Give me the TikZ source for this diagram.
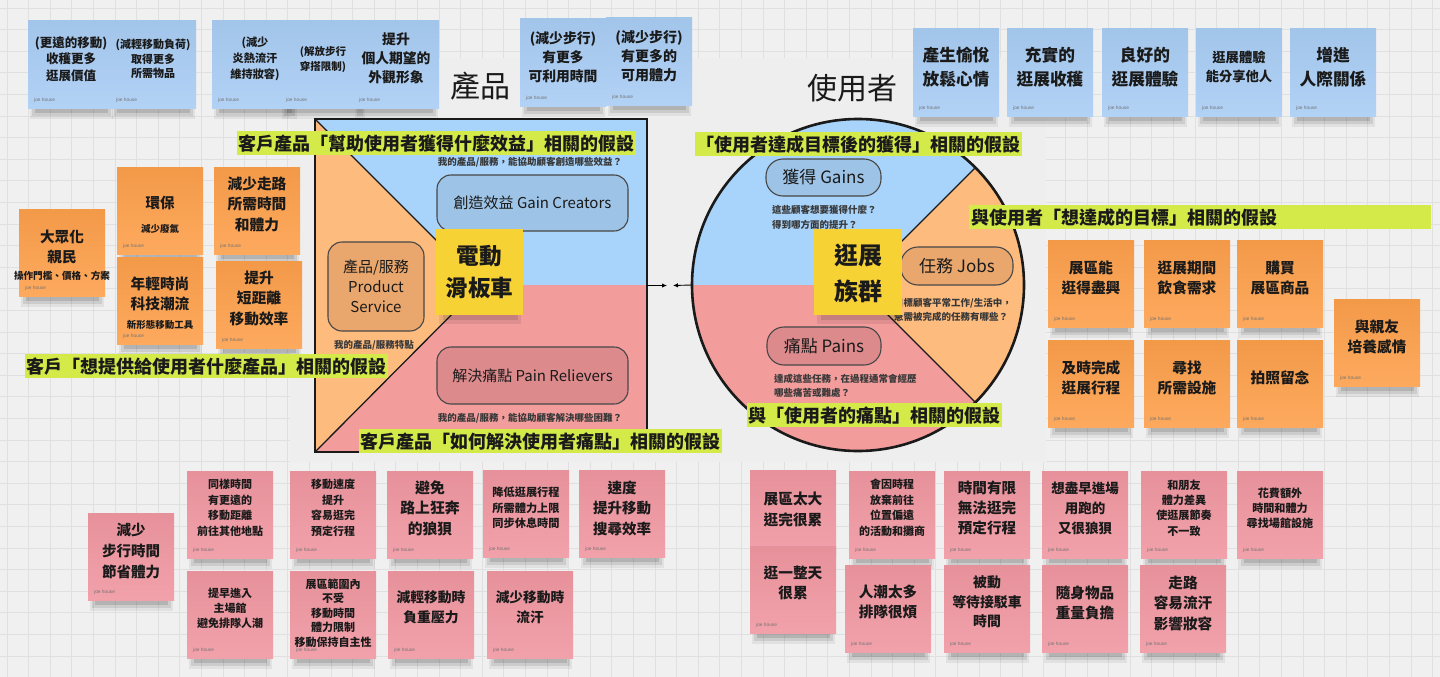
\documentclass[tikz,border=0pt]{standalone}
\usepackage{fontspec}
\setmainfont{Noto Sans CJK TC}
\newfontfamily\signfont{Liberation Sans}
\usetikzlibrary{arrows.meta,calc}

% palette
\definecolor{bgc}{HTML}{F0F0F0}
\definecolor{gridc}{HTML}{E0E0E0}
\definecolor{panelc}{HTML}{EEEEEE}
\definecolor{cvblue}{HTML}{A8D3FA}
\definecolor{cvpink}{HTML}{F29C9C}
\definecolor{cvorange}{HTML}{FDBB7E}
\definecolor{bxblue}{HTML}{9DC3E6}
\definecolor{bxorange}{HTML}{E9A76D}
\definecolor{bxpink}{HTML}{DD8A8D}
\definecolor{yel}{HTML}{F6D235}
\definecolor{nblue}{HTML}{A9CDF4}
\definecolor{norange}{HTML}{FDA04C}
\definecolor{npink}{HTML}{F097A1}
\definecolor{limec}{HTML}{D4EA49}
\definecolor{inkc}{HTML}{1A1A1A}

\newcommand{\fs}[2]{\bfseries\fontsize{#1}{#2}\selectfont}

\tikzset{
  notebox/.style={rectangle, minimum width=86pt, minimum height=87pt, anchor=north west, inner sep=0pt, outer sep=0pt},
  notetext/.style={align=center, inner sep=0pt, text=inkc},
  sign/.style={font=\signfont\fontsize{4.8}{5}\selectfont, text=black!55, anchor=west, inner sep=0pt},
  hypo/.style={fill=limec, inner xsep=1.5pt, inner ysep=0pt, minimum height=24pt, anchor=north west, font=\fs{18}{20}, text=inkc},
  vpbox/.style={draw=black!72, line width=1.1pt, rounded corners=14pt, inner sep=0pt, align=center, text=inkc},
  hint/.style={font=\fs{9.5}{14.5}, text=black!78, inner sep=0pt},
  title/.style={font=\fontsize{30}{32}\selectfont, text=inkc, inner sep=0pt},
  tip/.style={line width=0.9pt, -{Latex[length=5pt,width=4.5pt]}}
}

% sticky note: name, x, y (top left), colour, font, text lift, text
\newcommand{\stnote}[7]{%
  \fill[black,opacity=0.06] (#2+2,#3+80) rectangle (#2+85,#3+98);
  \fill[black,opacity=0.09] (#2+4,#3+83) rectangle (#2+83,#3+95);
  \fill[black,opacity=0.12] (#2+7,#3+85) rectangle (#2+80,#3+92);
  \node[notebox, top color=#4!96!black, bottom color=#4!90!white] (#1) at (#2,#3) {};
  \node[notetext, font={#5}] (#1t) at ([yshift=#6pt]#1.center) {#7};
  \node[sign] (#1s) at ([xshift=6pt,yshift=8pt]#1.south west) {joe house};
}

\begin{document}
\begin{tikzpicture}[x=1pt,y=-1pt]
\useasboundingbox (0,0) rectangle (1440,677);
\fill[bgc] (0,0) rectangle (1440,677);
\foreach \k in {0,...,66} \draw[gridc,line width=0.8pt] (\k*21.6+7,0) -- (\k*21.6+7,677);
\foreach \k in {0,...,31} \draw[gridc,line width=0.8pt] (0,\k*21.6+8) -- (1440,\k*21.6+8);
\fill[panelc] (290,58) rectangle (1046,462);

% ---- gains row (blue)
\stnote{b1}{28}{21}{nblue}{\fs{12.5}{16.5}}{5.5}{(更遠的移動)\\收穫更多\\逛展價值}
\stnote{b2}{110}{21}{nblue}{\fs{11}{14.5}}{5.5}{(減輕移動負荷)\\取得更多\\所需物品}
\stnote{b3}{212}{21}{nblue}{\fs{11.2}{16}}{5.5}{(減少\\炎熱流汗\\維持妝容)}
\stnote{b4}{280}{21}{nblue}{\fs{10.5}{15}}{5}{(解放步行\\穿搭限制)}
\stnote{b5}{353}{21}{nblue}{\fs{13.8}{19}}{6}{提升\\個人期望的\\外觀形象}
\stnote{b6}{520}{19}{nblue}{\fs{13.8}{19}}{5.5}{(減少步行)\\有更多\\可利用時間}
\stnote{b7}{606}{18}{nblue}{\fs{14}{19}}{5.5}{(減少步行)\\有更多的\\可用體力}
\stnote{b8}{913}{29}{nblue}{\fs{16.7}{24}}{5}{產生愉悅\\放鬆心情}
\stnote{b9}{1007}{29}{nblue}{\fs{16.7}{24}}{5}{充實的\\逛展收穫}
\stnote{b10}{1102}{29}{nblue}{\fs{16.7}{24}}{5}{良好的\\逛展體驗}
\stnote{b11}{1196}{29}{nblue}{\fs{13.3}{19}}{6}{逛展體驗\\能分享他人}
\stnote{b12}{1290}{29}{nblue}{\fs{16.7}{24}}{5}{增進\\人際關係}

% ---- headings
\node[title] (tprod) at (480,86) {產品};
\node[title] (tuser) at (852,88) {使用者};

% ---- value map square
\fill[cvblue] (315,119) -- (647,119) -- (647,285) -- (481,285) -- cycle;
\fill[cvpink] (481,285) -- (647,285) -- (647,452) -- (315,452) -- cycle;
\fill[cvorange] (315,119) -- (481,285) -- (315,452) -- cycle;
\draw[inkc,line width=1.3pt] (315,119) -- (481,285) -- (315,452);

\node[vpbox, fill=bxblue, minimum width=191pt, minimum height=56pt, font=\fontsize{15}{18}\selectfont] (gc) at (532.5,203) {創造效益 Gain Creators};
\node[vpbox, fill=bxorange, minimum width=96pt, minimum height=89pt, font=\fontsize{15}{20}\selectfont] (ps) at (376,286.5) {產品/服務\\Product\\Service};
\node[vpbox, fill=bxpink, minimum width=191pt, minimum height=57pt, font=\fontsize{15}{18}\selectfont] (pr) at (532.5,375.5) {解決痛點 Pain Relievers};

\node[hint] (h1) at (530,162) {我的產品/服務，能協助顧客創造哪些效益？};
\node[hint] (h2) at (374,345) {我的產品/服務特點};
\node[hint] (h3) at (530,418) {我的產品/服務，能協助顧客解決哪些困難？};

\node[draw=inkc, line width=2.6pt, minimum width=332pt, minimum height=333pt, inner sep=0pt, outer sep=0pt, anchor=north west] (sq) at (315,119) {};

% ---- customer profile circle
\begin{scope}[shift={(858,285)}, y=1pt]
  \fill[cvblue] (0,0) -- (180:166) arc[start angle=180, end angle=45, radius=166] -- cycle;
  \fill[cvorange] (0,0) -- (45:166) arc[start angle=45, end angle=-45, radius=166] -- cycle;
  \fill[cvpink] (0,0) -- (-45:166) arc[start angle=-45, end angle=-180, radius=166] -- cycle;
  \draw[inkc,line width=1.3pt] (45:166) -- (0,0) -- (-45:166);
\end{scope}

\node[vpbox, fill=bxblue, rounded corners=17pt, minimum width=115pt, minimum height=37pt, font=\fontsize{17}{20}\selectfont] (ga) at (823.5,177.5) {獲得 Gains};
\node[vpbox, fill=bxorange, rounded corners=17pt, minimum width=112pt, minimum height=38pt, font=\fontsize{17}{20}\selectfont] (jb) at (957,266) {任務 Jobs};
\node[vpbox, fill=bxpink, rounded corners=17pt, minimum width=114pt, minimum height=38pt, font=\fontsize{17}{20}\selectfont] (pa) at (824,346) {痛點 Pains};

\node[hint, align=left, anchor=west] (h4) at (772,217.5) {這些顧客想要獲得什麼？\\得到哪方面的提升？};
\node[hint, align=left, anchor=west] (h5) at (894,309.7) {目標顧客平常工作/生活中，\\急需被完成的任務有哪些？};
\node[hint, align=left, anchor=west] (h6) at (774,386) {達成這些任務，在過程通常會經歷\\哪些痛苦或難處？};

\node[circle, draw=inkc, line width=2.6pt, minimum size=332pt, inner sep=0pt, outer sep=0pt] (cir) at (858,285) {};

% ---- fit arrows between the two halves
\coordinate (fitL) at (667,285.5);
\coordinate (fitR) at (673,285.5);
\draw[tip] (sq.east) -- (fitL);
\draw[tip] (cir.west) -- (fitR);

% ---- central subject notes
\fill[black,opacity=0.08] (439,308) rectangle (521,324);
\fill[black,opacity=0.11] (443,312) rectangle (518,320);
\node[rectangle, minimum width=87pt, minimum height=86pt, inner sep=0pt, outer sep=0pt, fill=yel, anchor=north west] (ev) at (436,229) {};
\node[notetext, font=\fs{22.6}{32}] (evt) at (ev.center) {電動\\滑板車};
\fill[black,opacity=0.08] (817,308) rectangle (900,324);
\fill[black,opacity=0.11] (821,312) rectangle (897,320);
\node[rectangle, minimum width=88pt, minimum height=86pt, inner sep=0pt, outer sep=0pt, fill=yel, anchor=north west] (vg) at (814,229) {};
\node[notetext, font=\fs{24}{36}] (vgt) at ([yshift=-1pt]vg.center) {逛展\\族群};

% ---- product notes (orange, left)
\stnote{o1}{19}{209}{norange}{\fs{14.6}{20}}{-3}{大眾化\\親民\\[-3pt]{\fs{9.6}{13}操作門檻、價格、方案}}
\stnote{o2}{117}{167}{norange}{\fs{14.5}{20}}{-4.5}{環保\\[4pt]{\fs{9.5}{13}減少廢氣}}
\stnote{o3}{214}{167}{norange}{\fs{14.7}{20.5}}{6.5}{減少走路\\所需時間\\和體力}
\stnote{o4}{117}{257}{norange}{\fs{14.7}{20}}{-2.5}{年輕時尚\\科技潮流\\[-1pt]{\fs{9.5}{13}新形態移動工具}}
\stnote{o5}{216}{261}{norange}{\fs{14.7}{20.5}}{6.5}{提升\\短距離\\移動效率}

% ---- job notes (orange, right)
\stnote{r1}{1048}{240}{norange}{\fs{14.7}{20}}{5.5}{展區能\\逛得盡興}
\stnote{r2}{1144}{240}{norange}{\fs{14.7}{20}}{5.5}{逛展期間\\飲食需求}
\stnote{r3}{1237}{240}{norange}{\fs{14.7}{20}}{5.5}{購買\\展區商品}
\stnote{r4}{1048}{340}{norange}{\fs{14.7}{20}}{6}{及時完成\\逛展行程}
\stnote{r5}{1144}{340}{norange}{\fs{14.7}{20}}{6}{尋找\\所需設施}
\stnote{r6}{1237}{340}{norange}{\fs{14.7}{20}}{5.5}{拍照留念}
\stnote{r7}{1334}{299}{norange}{\fs{14.7}{20}}{5.5}{與親友\\培養感情}

% ---- pain reliever notes (pink, left)
\stnote{p1}{88}{513}{npink}{\fs{14.5}{21}}{5.5}{減少\\步行時間\\節省體力}
\stnote{p2}{187}{471}{npink}{\fs{11}{15.5}}{6.5}{同樣時間\\有更遠的\\移動距離\\前往其他地點}
\stnote{p3}{290}{471}{npink}{\fs{11}{15.5}}{6.5}{移動速度\\提升\\容易逛完\\預定行程}
\stnote{p4}{387}{471}{npink}{\fs{14.8}{20.5}}{6.5}{避免\\路上狂奔\\的狼狽}
\stnote{p5}{483}{470}{npink}{\fs{11.2}{15.5}}{5.5}{降低逛展行程\\所需體力上限\\同步休息時間}
\stnote{p6}{579}{470}{npink}{\fs{14.5}{20.5}}{5.5}{速度\\提升移動\\搜尋效率}
\stnote{p7}{187}{571}{npink}{\fs{11}{15}}{6}{提早進入\\主場館\\避免排隊人潮}
\stnote{p8}{290}{571}{npink}{\fs{11}{14.5}}{1.5}{展區範圍內\\不受\\移動時間\\體力限制\\移動保持自主性}
\stnote{p9}{388}{571}{npink}{\fs{13.8}{20}}{7}{減輕移動時\\負重壓力}
\stnote{p10}{487}{571}{npink}{\fs{13.7}{20}}{7}{減少移動時\\流汗}

% ---- pain notes (pink, right)
\stnote{q1}{750}{470}{npink}{\fs{14.7}{20.5}}{4}{展區太大\\逛完很累}
\stnote{q2}{750}{546}{npink}{\fs{14.7}{20.5}}{6.5}{逛一整天\\很累}
\stnote{q3}{849}{471}{npink}{\fs{11}{15.5}}{6.5}{會因時程\\放棄前往\\位置偏遠\\的活動和攤商}
\stnote{q4}{944}{471}{npink}{\fs{14.6}{20}}{6.5}{時間有限\\無法逛完\\預定行程}
\stnote{q5}{1042}{471}{npink}{\fs{13.5}{20}}{6.5}{想盡早進場\\用跑的\\又很狼狽}
\stnote{q6}{845}{565}{npink}{\fs{14.6}{20}}{6.5}{人潮太多\\排隊很煩}
\stnote{q7}{944}{565}{npink}{\fs{13.9}{19.5}}{6.5}{被動\\等待接駁車\\時間}
\stnote{q8}{1042}{565}{npink}{\fs{14.6}{20}}{5.5}{隨身物品\\重量負擔}
\stnote{q9}{1141}{471}{npink}{\fs{11.1}{15.3}}{6.5}{和朋友\\體力差異\\使逛展節奏\\不一致}
\stnote{q10}{1237}{471}{npink}{\fs{11.1}{15}}{6.5}{花費額外\\時間和體力\\尋找場館設施}
\stnote{q11}{1140}{565}{npink}{\fs{14.6}{20.5}}{5.5}{走路\\容易流汗\\影響妝容}

% ---- hypothesis labels
\node[hypo] (g1) at (237,131) {客戶產品「幫助使用者獲得什麼效益」相關的假設};
\node[hypo] (g2) at (695,132) {「使用者達成目標後的獲得」相關的假設};
\node[hypo, minimum width=462pt] (g3) at (969,205) {};
\node[font=\fs{18}{20}, text=inkc, anchor=west, inner sep=0pt] (g3t) at ([xshift=2pt]g3.west) {與使用者「想達成的目標」相關的假設};
\node[hypo] (g4) at (747,403) {與「使用者的痛點」相關的假設};
\node[hypo] (g5) at (25,354) {客戶「想提供給使用者什麼產品」相關的假設};
\node[hypo] (g6) at (359,429) {客戶產品「如何解決使用者痛點」相關的假設};
\end{tikzpicture}
\end{document}
